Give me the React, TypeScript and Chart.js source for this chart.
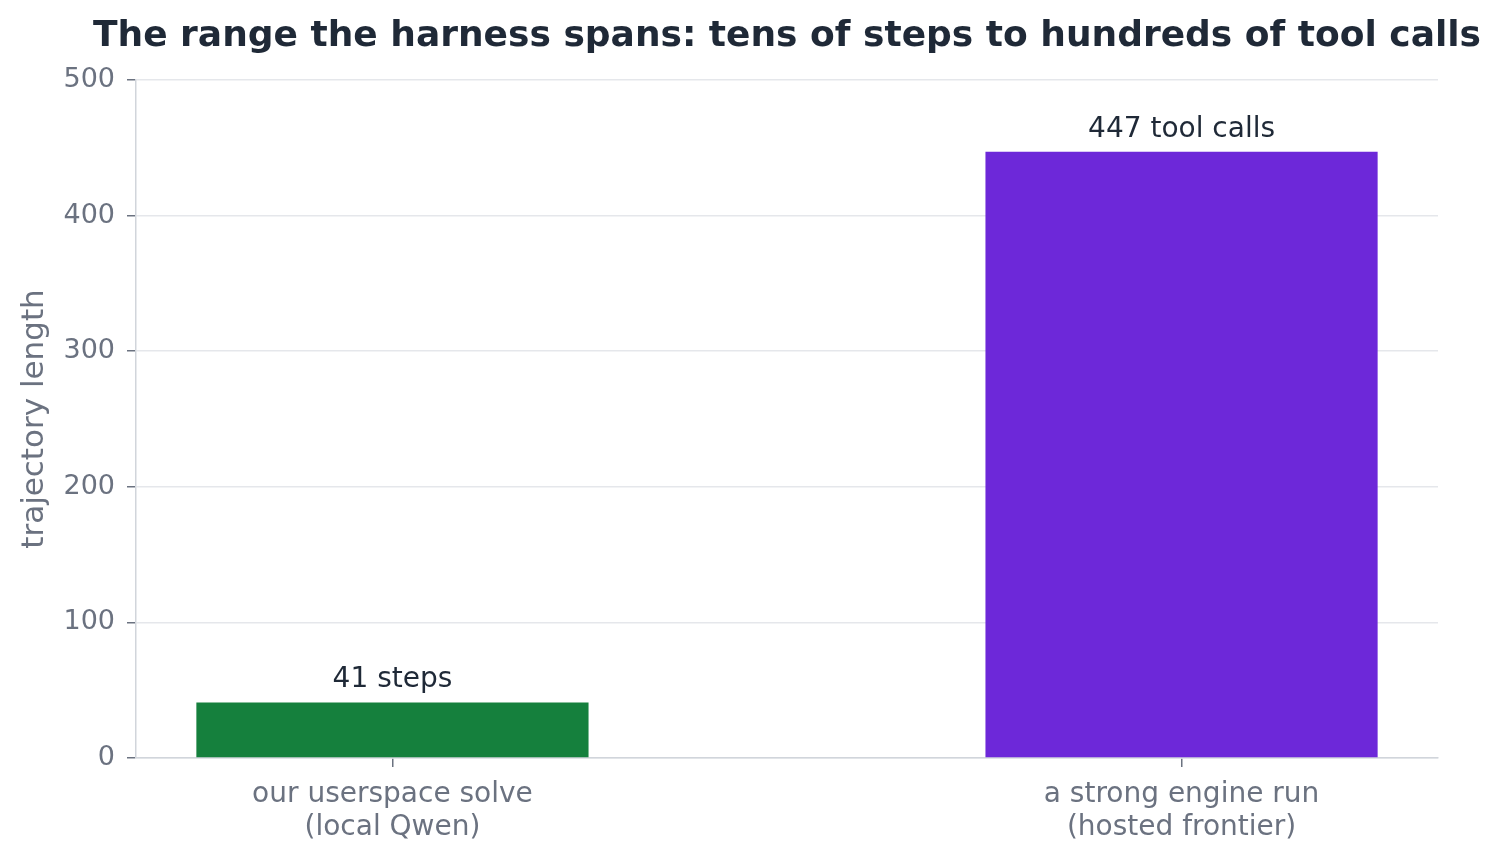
import React, { useEffect, useRef } from "react";
import { Chart, registerables, Plugin } from "chart.js";

Chart.register(...registerables);

const TITLE = "The range the harness spans: tens of steps to hundreds of tool calls";
const positions = [0, 1];
const lengths = [41, 447];
const barLabels = ["41 steps", "447 tool calls"];
const categories = [
  ["our userspace solve", "(local Qwen)"],
  ["a strong engine run", "(hosted frontier)"],
];
const barColors = ["#15803d", "#6d28d9"];
const yTicks = [0, 100, 200, 300, 400, 500];

const FONT = "'DejaVu Sans', sans-serif";

const overlay: Plugin<"bar"> = {
  id: "overlay",
  afterDatasetsDraw(chart) {
    const { ctx, chartArea } = chart;
    const meta = chart.getDatasetMeta(0);
    ctx.save();
    ctx.fillStyle = "#1f2937";
    ctx.font = `28px ${FONT}`;
    ctx.textAlign = "center";
    ctx.textBaseline = "alphabetic";
    meta.data.forEach((el: any, i: number) => {
      ctx.fillText(barLabels[i], el.x, el.y - 15);
    });
    ctx.font = `bold 36px ${FONT}`;
    ctx.textBaseline = "middle";
    ctx.fillText(TITLE, (chartArea.left + chartArea.right) / 2, 37);
    ctx.restore();
  },
};

export default function App() {
  const ref = useRef<HTMLCanvasElement | null>(null);

  useEffect(() => {
    document.body.style.margin = "0";
    const ctx = ref.current?.getContext("2d");
    if (!ctx) return;
    const chart = new Chart(ctx, {
      type: "bar",
      data: {
        datasets: [
          {
            data: positions.map((x, i) => ({ x, y: lengths[i] })),
            backgroundColor: barColors,
            barPercentage: 0.497,
            categoryPercentage: 1,
          },
        ],
      },
      options: {
        animation: false,
        responsive: false,
        devicePixelRatio: 1,
        layout: { padding: { left: 0, right: 64, top: 80, bottom: 0 } },
        plugins: { legend: { display: false }, tooltip: { enabled: false }, title: { display: false } },
        scales: {
          x: {
            type: "linear",
            offset: false,
            min: -0.325,
            max: 1.325,
            afterBuildTicks: (scale: any) => {
              scale.ticks = positions.map((v) => ({ value: v }));
            },
            afterFit: (scale: any) => {
              scale.height = 106;
            },
            ticks: {
              callback: (v: any) => categories[positions.indexOf(Number(v))] ?? "",
              color: "#6b7280",
              font: { family: FONT, size: 28, lineHeight: 1.18 },
              padding: 11,
              maxRotation: 0,
              autoSkip: false,
            },
            grid: { offset: false, drawOnChartArea: false, drawTicks: true, tickLength: 9, tickColor: "#6b7280", lineWidth: 1.5 },
            border: { color: "#d1d5db", width: 1.5 },
          },
          y: {
            min: 0,
            max: 500,
            afterBuildTicks: (scale: any) => {
              scale.ticks = yTicks.map((v) => ({ value: v }));
            },
            afterFit: (scale: any) => {
              scale.width = 136;
            },
            ticks: {
              color: "#6b7280",
              font: { family: FONT, size: 27 },
              padding: 12,
            },
            grid: { color: "#e5e7eb", lineWidth: 1.5, tickLength: 9, tickColor: "#6b7280" },
            border: { color: "#d1d5db", width: 1.5 },
            title: {
              display: true,
              text: "trajectory length",
              color: "#6b7280",
              font: { family: FONT, size: 31 },
              padding: { top: 16, bottom: 0 },
            },
          },
        },
      },
      plugins: [overlay],
    });
    return () => chart.destroy();
  }, []);

  return (
    <div style={{ width: 1502, height: 864, background: "#fff" }}>
      <canvas ref={ref} width={1502} height={864} />
    </div>
  );
}
